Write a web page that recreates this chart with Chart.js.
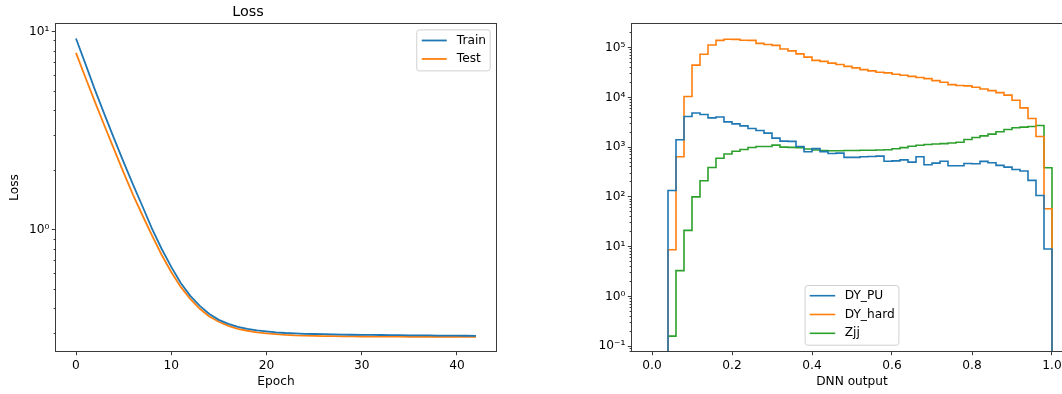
<!DOCTYPE html>
<html>
<head>
<meta charset="utf-8">
<script src="https://cdn.jsdelivr.net/npm/chart.js@4.4.1/dist/chart.umd.min.js"></script>
<style>
  html, body { margin: 0; padding: 0; background: #ffffff; width: 1062px; height: 394px; overflow: hidden; }
  #lossChart { position: absolute; left: 0; top: 0; }
  #histChart { position: absolute; left: 580px; top: 0; }
</style>
</head>
<body>
<canvas id="lossChart" width="552" height="394"></canvas>
<canvas id="histChart" width="520" height="394"></canvas>
<script>
// ---- Training history (one value per epoch) ----
const epochs = [0, 1, 2, 3, 4, 5, 6, 7, 8, 9, 10, 11, 12, 13, 14, 15, 16, 17, 18, 19, 20,
  21, 22, 23, 24, 25, 26, 27, 28, 29, 30, 31, 32, 33, 34, 35, 36, 37, 38, 39, 40, 41, 42];
const trainLoss = [9.26, 6.87, 5.08, 3.82, 2.89, 2.20, 1.69, 1.31, 1.01, 0.802,
  0.651, 0.540, 0.465, 0.414, 0.377, 0.352, 0.336, 0.324, 0.317, 0.311,
  0.308, 0.304, 0.302, 0.301, 0.299, 0.2985, 0.298, 0.297, 0.2965, 0.296,
  0.2955, 0.2952, 0.295, 0.2947, 0.2944, 0.2941, 0.2938, 0.2935, 0.2932, 0.293,
  0.2927, 0.2925, 0.2922];
const testLoss = [7.84, 5.87, 4.42, 3.35, 2.55, 1.95, 1.50, 1.18, 0.933, 0.748,
  0.614, 0.516, 0.449, 0.400, 0.366, 0.344, 0.328, 0.317, 0.310, 0.304,
  0.301, 0.298, 0.2955, 0.2938, 0.293, 0.2922, 0.2915, 0.291, 0.2906, 0.2903,
  0.290, 0.2898, 0.2896, 0.2894, 0.2893, 0.2892, 0.2891, 0.289, 0.2889, 0.2888,
  0.2888, 0.2887, 0.2887];
const epochTicks = [0, 10, 20, 30, 40];

// ---- DNN output histograms: 50 bins on [0, 1], counts per bin ----
const binEdges = [0.00, 0.02, 0.04, 0.06, 0.08, 0.10, 0.12, 0.14, 0.16, 0.18,
  0.20, 0.22, 0.24, 0.26, 0.28, 0.30, 0.32, 0.34, 0.36, 0.38,
  0.40, 0.42, 0.44, 0.46, 0.48, 0.50, 0.52, 0.54, 0.56, 0.58,
  0.60, 0.62, 0.64, 0.66, 0.68, 0.70, 0.72, 0.74, 0.76, 0.78,
  0.80, 0.82, 0.84, 0.86, 0.88, 0.90, 0.92, 0.94, 0.96, 0.98, 1.00];
const dyPU = [0, 0, 135, 1410, 4130, 4850, 4550, 3880, 4030, 3220,
  2940, 2680, 2370, 2170, 1920, 1520, 1320, 1310, 1030, 810,
  935, 815, 745, 760, 625, 625, 640, 650, 660, 520,
  530, 555, 500, 640, 443, 478, 520, 423, 423, 470,
  465, 517, 486, 430, 398, 357, 331, 215, 107, 9];
const dyHard = [0, 0, 8.7, 641, 10400, 44500, 73800, 113000, 140000, 148000,
  147000, 141000, 140000, 122000, 116000, 111000, 94000, 86000, 75000, 64500,
  55500, 53000, 49000, 46000, 42000, 39200, 36200, 34100, 32000, 31100,
  29200, 27900, 26500, 25100, 23900, 21800, 20200, 18100, 17300, 17100,
  16000, 14800, 13700, 12500, 11100, 8800, 6170, 3770, 1640, 58];
const zjj = [0, 0, 0.159, 3.3, 21.3, 100, 212, 390, 600, 727,
  830, 900, 985, 1030, 1035, 1100, 1000, 990, 980, 920,
  880, 860, 850, 850, 855, 860, 865, 870, 880, 890,
  930, 980, 1040, 1090, 1130, 1160, 1180, 1210, 1260, 1430,
  1560, 1690, 1830, 2040, 2260, 2450, 2530, 2600, 2720, 385];
const dnnTicks = [0, 0.2, 0.4, 0.6, 0.8, 1.0];

// ---- helpers ----
const FONT = 'DejaVu Sans';
const INK = '#000000';
const TEXT_SIZE = 12.2;
const SUP = { '-': '\u207B', '0': '\u2070', '1': '\u00B9', '2': '\u00B2', '3': '\u00B3',
  '4': '\u2074', '5': '\u2075', '6': '\u2076', '7': '\u2077', '8': '\u2078', '9': '\u2079' };

function isDecade(v) {
  const l = Math.log10(v);
  return Math.abs(l - Math.round(l)) < 1e-9;
}
function decadeLabel(v) {
  const e = Math.round(Math.log10(v));
  return '10' + String(e).split('').map(c => SUP[c]).join('');
}
// 1..9 x 10^k ticks inside [min, max]; only the decades carry labels
function logTickList(min, max) {
  const out = [];
  for (let e = Math.floor(Math.log10(min)); e <= Math.ceil(Math.log10(max)); e++) {
    for (let m = 1; m <= 9; m++) {
      const v = m * Math.pow(10, e);
      if (v >= min && v <= max) out.push({ value: v, major: m === 1 });
    }
  }
  return out;
}
// Step outline of a histogram: each bin value holds from its left edge to the next edge
function stepPoints(edges, counts) {
  const FLOOR = 1e-4;
  const pts = [];
  let open = false;
  for (let i = 0; i < counts.length; i++) {
    const c = counts[i];
    if (c > 0) {
      if (!open) { pts.push({ x: edges[i], y: FLOOR }); open = true; }
      pts.push({ x: edges[i], y: c });
    } else if (open) {
      pts.push({ x: edges[i], y: FLOOR }); open = false;
    }
  }
  if (open) pts.push({ x: edges[counts.length], y: FLOOR });
  return pts;
}

// Axes frame on all four sides, drawn above the data
const framePlugin = {
  id: 'frame',
  afterDatasetsDraw(chart, args, o) {
    const { ctx, chartArea: a } = chart;
    ctx.save();
    ctx.strokeStyle = o.color;
    ctx.lineWidth = o.width;
    ctx.strokeRect(Math.round(a.left) - 0.5, Math.round(a.top) - 0.5,
      Math.round(a.right - a.left) + 1, Math.round(a.bottom - a.top) + 1);
    ctx.restore();
  }
};

// Boxed legend placed inside the plot area
const boxLegendPlugin = {
  id: 'boxLegend',
  afterDraw(chart, args, o) {
    const { ctx, chartArea: a } = chart;
    const items = chart.data.datasets;
    ctx.save();
    ctx.font = o.fontSize + 'px "' + FONT + '"';
    const textW = Math.max(...items.map(d => ctx.measureText(d.label).width));
    const w = o.textOffset + textW + o.padRight;
    const h = items.length * o.rowPitch + o.extraH;
    let x, y;
    if (o.loc === 'upper right') {
      x = a.right - o.axPad - w; y = a.top + o.axPad;
    } else {
      x = (a.left + a.right) / 2 - w / 2; y = a.bottom - o.axPad - h;
    }
    const r = 2.5;
    ctx.beginPath();
    ctx.moveTo(x + r, y);
    ctx.arcTo(x + w, y, x + w, y + h, r);
    ctx.arcTo(x + w, y + h, x, y + h, r);
    ctx.arcTo(x, y + h, x, y, r);
    ctx.arcTo(x, y, x + w, y, r);
    ctx.closePath();
    ctx.fillStyle = 'rgba(255,255,255,0.8)';
    ctx.fill();
    ctx.strokeStyle = '#d0d0d0';
    ctx.lineWidth = 1;
    ctx.stroke();
    items.forEach((d, i) => {
      const cy = y + o.firstRow + i * o.rowPitch;
      ctx.beginPath();
      ctx.moveTo(x + o.lineStart, cy);
      ctx.lineTo(x + o.lineStart + o.lineLen, cy);
      ctx.strokeStyle = d.borderColor;
      ctx.lineWidth = d.borderWidth;
      ctx.stroke();
      ctx.fillStyle = INK;
      ctx.textBaseline = 'middle';
      ctx.textAlign = 'left';
      ctx.fillText(d.label, x + o.textOffset, cy);
    });
    ctx.restore();
  }
};

Chart.register(framePlugin, boxLegendPlugin);

const tickFont = { family: FONT, size: TEXT_SIZE };
const titleFont = { family: FONT, size: TEXT_SIZE };

function logAxis(min, max, width) {
  return {
    type: 'logarithmic',
    min: min,
    max: max,
    border: { display: false },
    grid: {
      drawOnChartArea: false,
      drawTicks: true,
      tickLength: 4.2,
      tickColor: '#222222',
      tickWidth: 0.9,
      tickBorderDash: c => (c.tick && !isDecade(c.tick.value)) ? [0, 1.8, 40] : []
    },
    afterBuildTicks: s => { s.ticks = logTickList(min, max); },
    afterFit: s => { s.width = width; },
    ticks: {
      autoSkip: false,
      padding: 2.5,
      color: INK,
      font: tickFont,
      callback: v => isDecade(v) ? decadeLabel(v) : ''
    }
  };
}

function linearXAxis(min, max, tickValues, fmt, title) {
  return {
    type: 'linear',
    min: min,
    max: max,
    border: { display: false },
    grid: {
      drawOnChartArea: false,
      drawTicks: true,
      tickLength: 4.2,
      tickColor: '#222222',
      tickWidth: 0.9
    },
    afterBuildTicks: s => { s.ticks = tickValues.map(v => ({ value: v })); },
    afterFit: s => { s.height = 43; },
    ticks: { autoSkip: false, maxRotation: 0, padding: 3.5, color: INK, font: tickFont, callback: fmt },
    title: { display: true, text: title, color: INK, font: titleFont, padding: { top: 0, bottom: 4.5 } }
  };
}

// ---- Loss vs epoch ----
const lossAxisY = logAxis(0.245, 10.95, 56);
lossAxisY.title = { display: true, text: 'Loss', color: INK, font: titleFont, padding: { top: 8, bottom: 0 } };

new Chart(document.getElementById('lossChart'), {
  type: 'line',
  data: {
    datasets: [
      { label: 'Train', data: epochs.map((e, i) => ({ x: e, y: trainLoss[i] })),
        borderColor: '#1f77b4', borderWidth: 1.8, pointRadius: 0, tension: 0 },
      { label: 'Test', data: epochs.map((e, i) => ({ x: e, y: testLoss[i] })),
        borderColor: '#ff7f0e', borderWidth: 1.8, pointRadius: 0, tension: 0 }
    ]
  },
  options: {
    responsive: false,
    animation: false,
    events: [],
    layout: { padding: { left: 0, right: 56, top: 0, bottom: 0 } },
    scales: {
      x: linearXAxis(-2.1, 44.1, epochTicks, v => String(v), 'Epoch'),
      y: lossAxisY
    },
    plugins: {
      legend: { display: false },
      tooltip: { enabled: false },
      title: { display: true, text: 'Loss', color: INK, font: { family: FONT, size: 14.4, weight: 'normal' },
        padding: { top: 3.6, bottom: 3.2 } },
      frame: { color: '#3a3a3a', width: 1 },
      boxLegend: { loc: 'upper right', fontSize: TEXT_SIZE, axPad: 5.8, rowPitch: 18.5, extraH: 4,
        firstRow: 10.6, lineStart: 5, lineLen: 25, textOffset: 40, padRight: 4.2 }
    }
  }
});

// ---- DNN output distributions ----
new Chart(document.getElementById('histChart'), {
  type: 'line',
  data: {
    datasets: [
      { label: 'DY_PU', data: stepPoints(binEdges, dyPU), stepped: true,
        borderColor: '#1f77b4', borderWidth: 1.6, pointRadius: 0 },
      { label: 'DY_hard', data: stepPoints(binEdges, dyHard), stepped: true,
        borderColor: '#ff7f0e', borderWidth: 1.6, pointRadius: 0 },
      { label: 'Zjj', data: stepPoints(binEdges, zjj), stepped: true,
        borderColor: '#2ca02c', borderWidth: 1.6, pointRadius: 0 }
    ]
  },
  options: {
    responsive: false,
    animation: false,
    events: [],
    layout: { padding: { left: 0, right: 28, top: 24, bottom: 0 } },
    scales: {
      x: linearXAxis(-0.05, 1.05, dnnTicks, v => v.toFixed(1), 'DNN output'),
      y: logAxis(0.08, 2.99e5, 52)
    },
    plugins: {
      legend: { display: false },
      tooltip: { enabled: false },
      frame: { color: '#3a3a3a', width: 1 },
      boxLegend: { loc: 'lower center', fontSize: TEXT_SIZE, axPad: 5.8, rowPitch: 18.8, extraH: 3.3,
        firstRow: 10.2, lineStart: 4.6, lineLen: 25.5, textOffset: 39.6, padRight: 4.2 }
    }
  }
});
</script>
</body>
</html>
